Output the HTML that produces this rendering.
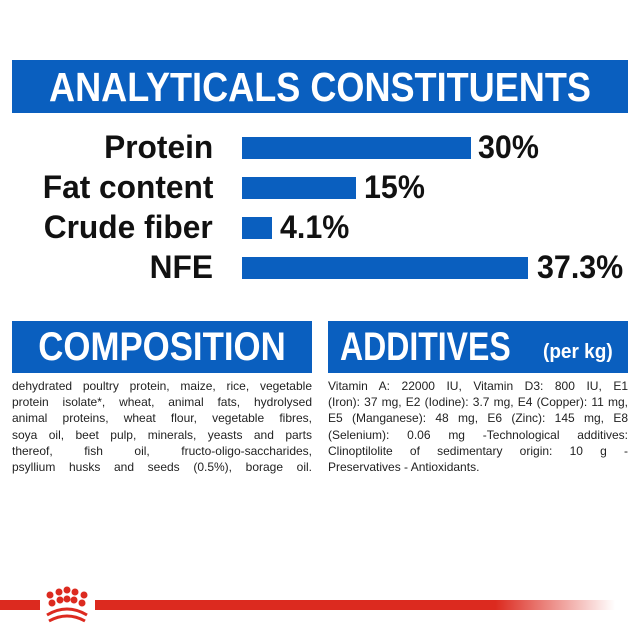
<!DOCTYPE html>
<html><head><style>
body{margin:0;width:640px;height:640px;background:#fff;position:relative;overflow:hidden;font-family:"Liberation Sans",sans-serif}
.abs{position:absolute}
.hdr{background:#0a5fbf;color:#fff;font-weight:bold;white-space:nowrap}
.lab{position:absolute;right:427px;font-weight:bold;font-size:32px;color:#111;white-space:nowrap;line-height:30px;transform:scaleX(.99);transform-origin:right center}
.val{position:absolute;font-weight:bold;font-size:32px;color:#111;line-height:30px;white-space:nowrap;transform:scaleX(.95);transform-origin:left center}
.bar{position:absolute;left:242px;height:22px;background:#0a5fbf}
.txt{position:absolute;font-size:12px;line-height:16.2px;color:#222;width:300px}
.txt div{text-align:justify;text-align-last:justify;white-space:nowrap;height:16.2px}
.txt div.l{text-align-last:left}
</style></head><body>
<div class="abs hdr" style="left:12px;top:60px;width:616px;height:53px"></div>
<div class="abs" style="left:0;width:640px;top:62px;text-align:center;color:#fff;font-weight:bold;font-size:41px;line-height:50px;transform:scaleX(.88)">ANALYTICALS CONSTITUENTS</div>

<div class="lab" style="top:132px">Protein</div><div class="bar" style="top:137px;width:229px"></div><div class="val" style="left:478px;top:132px">30%</div>
<div class="lab" style="top:172px">Fat content</div><div class="bar" style="top:177px;width:114px"></div><div class="val" style="left:364px;top:172px">15%</div>
<div class="lab" style="top:212px">Crude fiber</div><div class="bar" style="top:217px;width:30px"></div><div class="val" style="left:280px;top:212px">4.1%</div>
<div class="lab" style="top:252px">NFE</div><div class="bar" style="top:257px;width:286px"></div><div class="val" style="left:537px;top:252px">37.3%</div>

<div class="abs hdr" style="left:12px;top:321px;width:300px;height:52px"></div>
<div class="abs" style="left:12px;width:300px;top:322px;text-align:center;color:#fff;font-weight:bold;font-size:40px;line-height:50px;transform:scaleX(.87)">COMPOSITION</div>
<div class="abs hdr" style="left:328px;top:321px;width:300px;height:52px"></div>
<div class="abs" style="left:340px;top:322px;color:#fff;font-weight:bold;font-size:40px;line-height:50px;white-space:nowrap;transform:scaleX(.8);transform-origin:left center">ADDITIVES</div>
<div class="abs" style="left:543px;top:332px;color:#fff;font-weight:bold;font-size:20px;line-height:40px;white-space:nowrap;transform:scaleX(.95);transform-origin:left center">(per kg)</div>

<div class="txt" style="left:12px;top:378px">
<div>dehydrated poultry protein, maize, rice, vegetable</div>
<div>protein isolate*, wheat, animal fats, hydrolysed</div>
<div>animal proteins, wheat flour, vegetable fibres,</div>
<div>soya oil, beet pulp, minerals, yeasts and parts</div>
<div>thereof, fish oil, fructo-oligo-saccharides,</div>
<div>psyllium husks and seeds (0.5%), borage oil.</div>
</div>
<div class="txt" style="left:328px;top:378px">
<div>Vitamin A: 22000 IU, Vitamin D3: 800 IU, E1</div>
<div>(Iron): 37 mg, E2 (Iodine): 3.7 mg, E4 (Copper): 11 mg,</div>
<div>E5 (Manganese): 48 mg, E6 (Zinc): 145 mg, E8</div>
<div>(Selenium): 0.06 mg -Technological additives:</div>
<div>Clinoptilolite of sedimentary origin: 10 g -</div>
<div class="l">Preservatives - Antioxidants.</div>
</div>

<div class="abs" style="left:0;top:600px;width:40px;height:10px;background:#dc2a1f"></div>
<div class="abs" style="left:95px;top:600px;width:520px;height:10px;background:linear-gradient(to right,#dc2a1f 0%,#dc2a1f 77%,rgba(220,42,31,0) 100%)"></div>
<svg class="abs" style="left:36px;top:585px" width="60" height="55" viewBox="0 0 60 55">
<g fill="#dc2a1f">
<circle cx="14" cy="10" r="3.5"/><circle cx="23" cy="7" r="3.5"/><circle cx="31" cy="5" r="3.5"/><circle cx="39" cy="7" r="3.5"/><circle cx="48" cy="10" r="3.5"/>
<circle cx="16" cy="18" r="3.5"/><circle cx="24" cy="15" r="3.5"/><circle cx="31" cy="14" r="3.5"/><circle cx="38" cy="15" r="3.5"/><circle cx="46" cy="18" r="3.5"/>
</g>
<path d="M11 30 Q31 18 51 30" stroke="#dc2a1f" stroke-width="3" fill="none"/>
<path d="M13 36 Q31 26 49 36" stroke="#dc2a1f" stroke-width="3" fill="none"/>
</svg>
</body></html>
